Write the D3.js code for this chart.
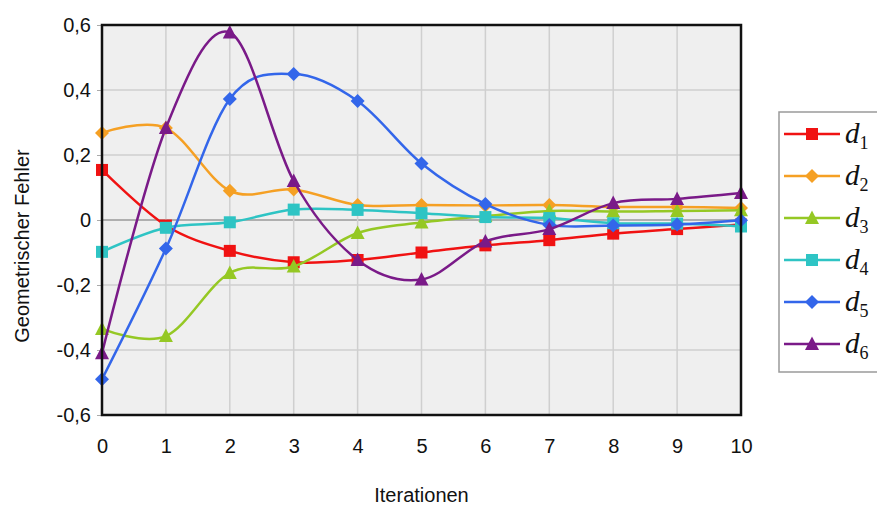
<!DOCTYPE html>
<html>
<head>
<meta charset="utf-8">
<script src="https://d3js.org/d3.v7.min.js"></script>
<style>
  body { margin: 0; background: white; }
  svg { display: block; }
</style>
</head>
<body>
<div id="chart"></div>
<script>
const iterations = [0, 1, 2, 3, 4, 5, 6, 7, 8, 9, 10];
const yTicks = [-0.6, -0.4, -0.2, 0, 0.2, 0.4, 0.6];

const d1 = [0.154, -0.017, -0.095, -0.13, -0.123, -0.10, -0.078, -0.062, -0.042, -0.028, -0.014];
const d2 = [0.268, 0.283, 0.09, 0.094, 0.046, 0.046, 0.045, 0.046, 0.04, 0.04, 0.037];
const d3v = [-0.335, -0.357, -0.163, -0.143, -0.04, -0.008, 0.012, 0.028, 0.026, 0.028, 0.03];
const d4 = [-0.098, -0.024, -0.007, 0.032, 0.031, 0.021, 0.009, 0.006, -0.01, -0.011, -0.02];
const d5 = [-0.49, -0.088, 0.372, 0.449, 0.366, 0.174, 0.049, -0.015, -0.017, -0.014, -0.001];
const d6 = [-0.41, 0.283, 0.577, 0.12, -0.123, -0.183, -0.066, -0.028, 0.052, 0.065, 0.083];

const seriesNames = ['1', '2', '3', '4', '5', '6'];
const seriesValues = [d1, d2, d3v, d4, d5, d6];
const seriesColors = ['#f01212', '#f5a024', '#95c824', '#2ec4c4', '#3366ea', '#7a1a88'];
const seriesMarkers = ['square', 'diamond', 'triangle', 'square', 'diamond', 'triangle'];

const width = 877;
const height = 509;
const margin = {top: 25, left: 102, right: 136, bottom: 94};
const labelFont = 'Liberation Sans, Arial, sans-serif';
const labelSize = '20px';

const svg = d3.select('#chart')
  .append('svg')
  .attr('width', width)
  .attr('height', height);

const xScale = d3.scaleLinear()
  .domain([0, 10])
  .range([margin.left, width - margin.right]);

const yScale = d3.scaleLinear()
  .domain([-0.6, 0.6])
  .range([height - margin.bottom, margin.top]);

const tickLabel = v => (Math.abs(v) < 1e-9 ? '0' : v.toFixed(1).replace('.', ','));

// plot background
svg.append('rect')
  .attr('x', xScale(0))
  .attr('y', yScale(0.6))
  .attr('width', xScale(10) - xScale(0))
  .attr('height', yScale(-0.6) - yScale(0.6))
  .attr('fill', '#efefef');

// grid
const grid = svg.append('g').attr('class', 'grid');
grid.selectAll('line.h')
  .data(yTicks)
  .join('line')
  .attr('class', 'h')
  .attr('x1', xScale(0))
  .attr('x2', xScale(10))
  .attr('y1', d => yScale(d))
  .attr('y2', d => yScale(d))
  .attr('stroke', d => d === 0 ? '#9a9a9a' : '#cfcfcf')
  .attr('stroke-width', 1.5);
grid.selectAll('line.v')
  .data(iterations)
  .join('line')
  .attr('class', 'v')
  .attr('x1', d => xScale(d))
  .attr('x2', d => xScale(d))
  .attr('y1', yScale(0.6))
  .attr('y2', yScale(-0.6))
  .attr('stroke', '#cfcfcf')
  .attr('stroke-width', 1.5);

// axes labels
const yAxis = d3.axisLeft(yScale).tickValues(yTicks).tickSize(5).tickFormat(tickLabel);
const yAxisElement = svg.append('g')
  .attr('transform', `translate(${xScale(0)},0)`)
  .call(yAxis)
  .attr('font-family', labelFont)
  .attr('font-size', labelSize);
yAxisElement.select('.domain').remove();
yAxisElement.selectAll('line').attr('stroke', '#aaaaaa');
yAxisElement.selectAll('text')
  .attr('x', -11)
  .attr('fill', '#111');

const xAxis = d3.axisBottom(xScale).tickValues(iterations).tickSize(0).tickFormat(d3.format('d'));
const xAxisElement = svg.append('g')
  .attr('transform', `translate(0,${yScale(-0.6)})`)
  .call(xAxis)
  .attr('font-family', labelFont)
  .attr('font-size', labelSize);
xAxisElement.select('.domain').remove();
xAxisElement.selectAll('text')
  .attr('y', 24)
  .attr('fill', '#111');

svg.append('text')
  .attr('x', (xScale(0) + xScale(10)) / 2)
  .attr('y', 502)
  .attr('text-anchor', 'middle')
  .attr('font-family', labelFont)
  .attr('font-size', labelSize)
  .attr('fill', '#111')
  .text('Iterationen');

svg.append('text')
  .attr('transform', `translate(29,${yScale(-0.08)}) rotate(-90)`)
  .attr('text-anchor', 'middle')
  .attr('font-family', labelFont)
  .attr('font-size', labelSize)
  .attr('fill', '#111')
  .text('Geometrischer Fehler');

// markers
function markerPath(type, size) {
  const s = size / 2;
  if (type === 'square') return `M${-s},${-s}H${s}V${s}H${-s}Z`;
  if (type === 'diamond') return `M0,${-s - 1}L${s + 1},0L0,${s + 1}L${-s - 1},0Z`;
  return `M0,${-s - 1.5}L${s + 1},${s}L${-s - 1},${s}Z`;
}

const line = d3.line()
  .x((d, i) => xScale(iterations[i]))
  .y(d => yScale(d))
  .curve(d3.curveCardinal.tension(0));

const seriesGroup = svg.append('g').attr('class', 'series');
seriesValues.forEach((values, k) => {
  const g = seriesGroup.append('g');
  g.append('path')
    .datum(values)
    .attr('fill', 'none')
    .attr('stroke', seriesColors[k])
    .attr('stroke-width', 2.5)
    .attr('d', line);
  g.selectAll('path.marker')
    .data(values)
    .join('path')
    .attr('class', 'marker')
    .attr('transform', (d, i) => `translate(${xScale(iterations[i])},${yScale(d)})`)
    .attr('d', markerPath(seriesMarkers[k], 12))
    .attr('fill', seriesColors[k]);
});

// frame
svg.append('rect')
  .attr('x', xScale(0))
  .attr('y', yScale(0.6))
  .attr('width', xScale(10) - xScale(0))
  .attr('height', yScale(-0.6) - yScale(0.6))
  .attr('fill', 'none')
  .attr('stroke', '#111')
  .attr('stroke-width', 2.5);

// legend
const legendX = 779;
const legendTop = 112;
const rowGap = 42;
const legend = svg.append('g');
legend.append('rect')
  .attr('x', legendX)
  .attr('y', legendTop)
  .attr('width', 110)
  .attr('height', rowGap * 6 + 8)
  .attr('fill', 'white')
  .attr('stroke', '#9a9a9a')
  .attr('stroke-width', 1.5);

const rows = legend.selectAll('g.row')
  .data(seriesNames)
  .join('g')
  .attr('class', 'row')
  .attr('transform', (d, i) => `translate(${legendX},${legendTop + 22 + i * rowGap})`);
rows.append('line')
  .attr('x1', 5)
  .attr('x2', 61)
  .attr('stroke', (d, i) => seriesColors[i])
  .attr('stroke-width', 2.5);
rows.append('path')
  .attr('transform', 'translate(33,0)')
  .attr('d', (d, i) => markerPath(seriesMarkers[i], 12))
  .attr('fill', (d, i) => seriesColors[i]);
const labels = rows.append('text')
  .attr('x', 66)
  .attr('y', 9)
  .attr('font-family', 'Liberation Serif, Times New Roman, serif')
  .attr('fill', '#111');
labels.append('tspan')
  .attr('font-style', 'italic')
  .attr('font-size', '29px')
  .text('d');
labels.append('tspan')
  .attr('font-size', '18px')
  .attr('dy', 6)
  .text(d => d);
</script>
</body>
</html>
